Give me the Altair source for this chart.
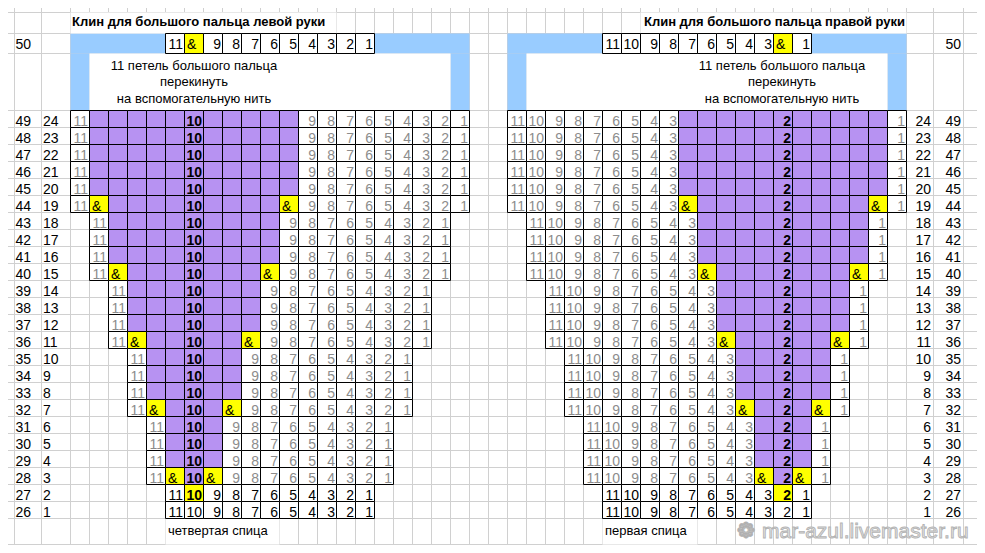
import altair as alt
import pandas as pd

# ------------------------------------------------------------------ data
ROW_NUMS = [49, 48, 47, 46, 45, 44, 43, 42, 41, 40, 39, 38, 37, 36, 35, 34, 33, 32, 31, 30, 29, 28, 27, 26]
SEQ_NUMS = [24, 23, 22, 21, 20, 19, 18, 17, 16, 15, 14, 13, 12, 11, 10, 9, 8, 7, 6, 5, 4, 3, 2, 1]
ROW_OFFSETS = [0, 0, 0, 0, 0, 0, 1, 1, 1, 1, 2, 2, 2, 2, 3, 3, 3, 3, 4, 4, 4, 4, 5, 5]

# "." = purple cell, "&" = yellow marker, "*" = bold on purple, "!" = bold on yellow
LEFT_ROWS = [
    "11 . . . . . 10* . . . . . 9 8 7 6 5 4 3 2 1",
    "11 . . . . . 10* . . . . . 9 8 7 6 5 4 3 2 1",
    "11 . . . . . 10* . . . . . 9 8 7 6 5 4 3 2 1",
    "11 . . . . . 10* . . . . . 9 8 7 6 5 4 3 2 1",
    "11 . . . . . 10* . . . . . 9 8 7 6 5 4 3 2 1",
    "11 & . . . . 10* . . . . & 9 8 7 6 5 4 3 2 1",
    "11 . . . . 10* . . . . 9 8 7 6 5 4 3 2 1",
    "11 . . . . 10* . . . . 9 8 7 6 5 4 3 2 1",
    "11 . . . . 10* . . . . 9 8 7 6 5 4 3 2 1",
    "11 & . . . 10* . . . & 9 8 7 6 5 4 3 2 1",
    "11 . . . 10* . . . 9 8 7 6 5 4 3 2 1",
    "11 . . . 10* . . . 9 8 7 6 5 4 3 2 1",
    "11 . . . 10* . . . 9 8 7 6 5 4 3 2 1",
    "11 & . . 10* . . & 9 8 7 6 5 4 3 2 1",
    "11 . . 10* . . 9 8 7 6 5 4 3 2 1",
    "11 . . 10* . . 9 8 7 6 5 4 3 2 1",
    "11 . . 10* . . 9 8 7 6 5 4 3 2 1",
    "11 & . 10* . & 9 8 7 6 5 4 3 2 1",
    "11 . 10* . 9 8 7 6 5 4 3 2 1",
    "11 . 10* . 9 8 7 6 5 4 3 2 1",
    "11 . 10* . 9 8 7 6 5 4 3 2 1",
    "11 & 10* & 9 8 7 6 5 4 3 2 1",
    "11 10! 9 8 7 6 5 4 3 2 1",
    "11 10 9 8 7 6 5 4 3 2 1",
]
RIGHT_ROWS = [
    "11 10 9 8 7 6 5 4 3 . . . . . 2* . . . . . 1",
    "11 10 9 8 7 6 5 4 3 . . . . . 2* . . . . . 1",
    "11 10 9 8 7 6 5 4 3 . . . . . 2* . . . . . 1",
    "11 10 9 8 7 6 5 4 3 . . . . . 2* . . . . . 1",
    "11 10 9 8 7 6 5 4 3 . . . . . 2* . . . . . 1",
    "11 10 9 8 7 6 5 4 3 & . . . . 2* . . . . & 1",
    "11 10 9 8 7 6 5 4 3 . . . . 2* . . . . 1",
    "11 10 9 8 7 6 5 4 3 . . . . 2* . . . . 1",
    "11 10 9 8 7 6 5 4 3 . . . . 2* . . . . 1",
    "11 10 9 8 7 6 5 4 3 & . . . 2* . . . & 1",
    "11 10 9 8 7 6 5 4 3 . . . 2* . . . 1",
    "11 10 9 8 7 6 5 4 3 . . . 2* . . . 1",
    "11 10 9 8 7 6 5 4 3 . . . 2* . . . 1",
    "11 10 9 8 7 6 5 4 3 & . . 2* . . & 1",
    "11 10 9 8 7 6 5 4 3 . . 2* . . 1",
    "11 10 9 8 7 6 5 4 3 . . 2* . . 1",
    "11 10 9 8 7 6 5 4 3 . . 2* . . 1",
    "11 10 9 8 7 6 5 4 3 & . 2* . & 1",
    "11 10 9 8 7 6 5 4 3 . 2* . 1",
    "11 10 9 8 7 6 5 4 3 . 2* . 1",
    "11 10 9 8 7 6 5 4 3 . 2* . 1",
    "11 10 9 8 7 6 5 4 3 & 2* & 1",
    "11 10 9 8 7 6 5 4 3 2! 1",
    "11 10 9 8 7 6 5 4 3 2 1",
]
TOP_ROW_NUM = 50
LEFT_TOP = "11 & 9 8 7 6 5 4 3 2 1"
RIGHT_TOP = "11 10 9 8 7 6 5 4 3 & 1"
TOP_OFFSET = 5

TITLE_LEFT = "Клин для большого пальца левой руки"
TITLE_RIGHT = "Клин для большого пальца правой руки"
NOTE_LINES = ["11 петель большого пальца", "перекинуть", "на вспомогательную нить"]
FOOT_LEFT = "четвертая спица"
FOOT_RIGHT = "первая спица"
WATERMARK = "mar-azul.livemaster.ru"

# ------------------------------------------------------------------ layout / style
FONT = "Liberation Sans"
GRID = "#d0d0d0"
PURPLE = "#b792f2"
YELLOW = "#ffff00"
BLUE = "#99ccff"
GRAY_TXT = "#8c8c8c"
CW, RH = 19, 17
XL, XR = 70.5, 507.5          # left edge of col 0 of each chart
ROW49_TOP = 110.5
R50_TOP, R50_BOT = 33.5, 53.5
X_MIN, X_MAX, Y_MIN, Y_MAX = 8, 977, 8, 545


def row_top(r):
    return R50_TOP if r == TOP_ROW_NUM else ROW49_TOP + (49 - r) * RH


def row_bot(r):
    return R50_BOT if r == TOP_ROW_NUM else row_top(r) + RH


cells, texts = [], []


def add_row(base, r, off, spec, dark):
    for i, t in enumerate(spec.split()):
        x1 = base + CW * (off + i)
        x2 = x1 + CW
        y1, y2 = row_top(r), row_bot(r)
        yb = y2 - 5 if r == TOP_ROW_NUM else y2 - 2
        if t == ".":
            cells.append(dict(x=x1, x2=x2, y=y1, y2=y2, fill=PURPLE))
            continue
        if t == "&":
            cells.append(dict(x=x1, x2=x2, y=y1, y2=y2, fill=YELLOW))
            texts.append(dict(x=x1 + 2.5, y=yb, text="&", color="#000", style="l"))
        elif t.endswith("*"):
            cells.append(dict(x=x1, x2=x2, y=y1, y2=y2, fill=PURPLE))
            texts.append(dict(x=x2 - 1.5, y=yb, text=t[:-1], color="#000", style="rb"))
        elif t.endswith("!"):
            cells.append(dict(x=x1, x2=x2, y=y1, y2=y2, fill=YELLOW))
            texts.append(dict(x=x2 - 1.5, y=yb, text=t[:-1], color="#000", style="rb"))
        else:
            cells.append(dict(x=x1, x2=x2, y=y1, y2=y2, fill="white"))
            texts.append(dict(x=x2 - 1.5, y=yb, text=t, color="#000" if dark else GRAY_TXT, style="r"))


for r, s, off, ls, rs in zip(ROW_NUMS, SEQ_NUMS, ROW_OFFSETS, LEFT_ROWS, RIGHT_ROWS):
    dark = r <= 27
    add_row(XL, r, off, ls, dark)
    add_row(XR, r, off, rs, dark)
    yb = row_bot(r) - 2
    texts.append(dict(x=15.5, y=yb, text=str(r), color="#000", style="l"))
    texts.append(dict(x=43, y=yb, text=str(s), color="#000", style="l"))
    texts.append(dict(x=931, y=yb, text=str(s), color="#000", style="r"))
    texts.append(dict(x=961, y=yb, text=str(r), color="#000", style="r"))

add_row(XL, TOP_ROW_NUM, TOP_OFFSET, LEFT_TOP, True)
add_row(XR, TOP_ROW_NUM, TOP_OFFSET, RIGHT_TOP, True)
texts.append(dict(x=15.5, y=R50_BOT - 5, text=str(TOP_ROW_NUM), color="#000", style="l"))
texts.append(dict(x=961, y=R50_BOT - 5, text=str(TOP_ROW_NUM), color="#000", style="r"))

# titles, notes, footers
texts.append(dict(x=72, y=25.5, text=TITLE_LEFT, color="#000", style="tl"))
texts.append(dict(x=905, y=25.5, text=TITLE_RIGHT, color="#000", style="tr"))
for k, line in enumerate(NOTE_LINES):
    texts.append(dict(x=194, y=69.5 + 16.5 * k, text=line, color="#000", style="c"))
    texts.append(dict(x=782, y=69.5 + 16.5 * k, text=line, color="#000", style="c"))
texts.append(dict(x=168, y=534.5, text=FOOT_LEFT, color="#000", style="f"))
texts.append(dict(x=605, y=534.5, text=FOOT_RIGHT, color="#000", style="f"))

# blue frames and white masks (no stroke)
blocks = []
for base in (XL, XR):
    blocks.append(dict(x=base, x2=base + CW * 5, y=R50_TOP, y2=R50_BOT, fill=BLUE))
    blocks.append(dict(x=base + CW * 16, x2=base + CW * 21, y=R50_TOP, y2=R50_BOT, fill=BLUE))
    blocks.append(dict(x=base, x2=base + CW, y=R50_BOT, y2=ROW49_TOP, fill=BLUE))
    blocks.append(dict(x=base + CW * 20, x2=base + CW * 21, y=R50_BOT, y2=ROW49_TOP, fill=BLUE))
    blocks.append(dict(x=base + CW, x2=base + CW * 20, y=R50_BOT, y2=ROW49_TOP, fill="white"))
blocks.append(dict(x=XL, x2=XL + CW * 14, y=12.5, y2=R50_TOP, fill="white"))
blocks.append(dict(x=XR + CW * 7, x2=XR + CW * 21, y=12.5, y2=R50_TOP, fill="white"))
blocks.append(dict(x=XL + CW * 5, x2=XL + CW * 11, y=ROW49_TOP + 24 * RH, y2=544.5, fill="white"))
blocks.append(dict(x=XR + CW * 5, x2=XR + CW * 10, y=ROW49_TOP + 24 * RH, y2=544.5, fill="white"))

# spreadsheet gridlines (kept inside the plotted domain)
V_LINES = [14.5, 41.5] + [XL + CW * k for k in range(45)] + [933.5, 963.5]
H_LINES = [12.5, R50_TOP, R50_BOT] + [ROW49_TOP + RH * k for k in range(25)] + [544.5]
vlines = pd.DataFrame(dict(x=V_LINES, y=[Y_MIN] * len(V_LINES), y2=[Y_MAX] * len(V_LINES)))
hlines = pd.DataFrame(dict(y=H_LINES, x=[X_MIN] * len(H_LINES), x2=[X_MAX] * len(H_LINES)))

cells_df = pd.DataFrame(cells)
blocks_df = pd.DataFrame(blocks)
texts_df = pd.DataFrame(texts)

XS = alt.Scale(domain=[X_MIN, X_MAX], nice=False, zero=False)
YS = alt.Scale(domain=[Y_MIN, Y_MAX], nice=False, zero=False, reverse=True)


def X(f="x"):
    return alt.X(f"{f}:Q", scale=XS, axis=None)


def Y(f="y"):
    return alt.Y(f"{f}:Q", scale=YS, axis=None)


grid_v = alt.Chart(vlines).mark_rule(color=GRID, strokeWidth=1, clip=True).encode(
    x=X(), y=Y(), y2="y2:Q")
grid_h = alt.Chart(hlines).mark_rule(color=GRID, strokeWidth=1, clip=True).encode(
    y=Y(), x=X(), x2="x2:Q")
blocks_l = alt.Chart(blocks_df).mark_rect(strokeWidth=0, clip=True).encode(
    x=X(), x2="x2:Q", y=Y(), y2="y2:Q", color=alt.Color("fill:N", scale=None))
cells_l = alt.Chart(cells_df).mark_rect(stroke="black", strokeWidth=1).encode(
    x=X(), x2="x2:Q", y=Y(), y2="y2:Q", color=alt.Color("fill:N", scale=None))


def text_layer(style, **kw):
    d = texts_df[texts_df["style"] == style]
    return alt.Chart(d).mark_text(font=FONT, baseline="alphabetic", **kw).encode(
        x=X(), y=Y(), text="text:N", color=alt.Color("color:N", scale=None))


layers = [
    grid_v, grid_h, blocks_l, cells_l,
    text_layer("r", align="right", fontSize=14),
    text_layer("rb", align="right", fontSize=14, fontWeight="bold"),
    text_layer("l", align="left", fontSize=14),
    text_layer("tl", align="left", fontSize=13, fontWeight="bold"),
    text_layer("tr", align="right", fontSize=13, fontWeight="bold"),
    text_layer("c", align="center", fontSize=13),
    text_layer("f", align="left", fontSize=13),
]

wm = pd.DataFrame(dict(x=[746, 762], y=[538, 538], text=["❁", WATERMARK]))
wm_icon = alt.Chart(wm.iloc[[0]]).mark_text(
    font="DejaVu Sans", fontSize=22, align="center", baseline="alphabetic",
    color="#dcdcdc", stroke="#b0b0b0", strokeWidth=0.8).encode(x=X(), y=Y(), text="text:N")
wm_text = alt.Chart(wm.iloc[[1]]).mark_text(
    font=FONT, fontSize=21, align="left", baseline="alphabetic",
    color="#e6e6e6", stroke="#b4b4b4", strokeWidth=0.9).encode(x=X(), y=Y(), text="text:N")
layers += [wm_icon, wm_text]

chart = alt.layer(*layers).properties(
    width=969, height=537,
    autosize=alt.AutoSizeParams(type="fit", contains="padding"),
    padding=0, background="white",
).configure_view(stroke=None)

chart.save("out.html", embed_options={"renderer": "svg", "actions": False})
